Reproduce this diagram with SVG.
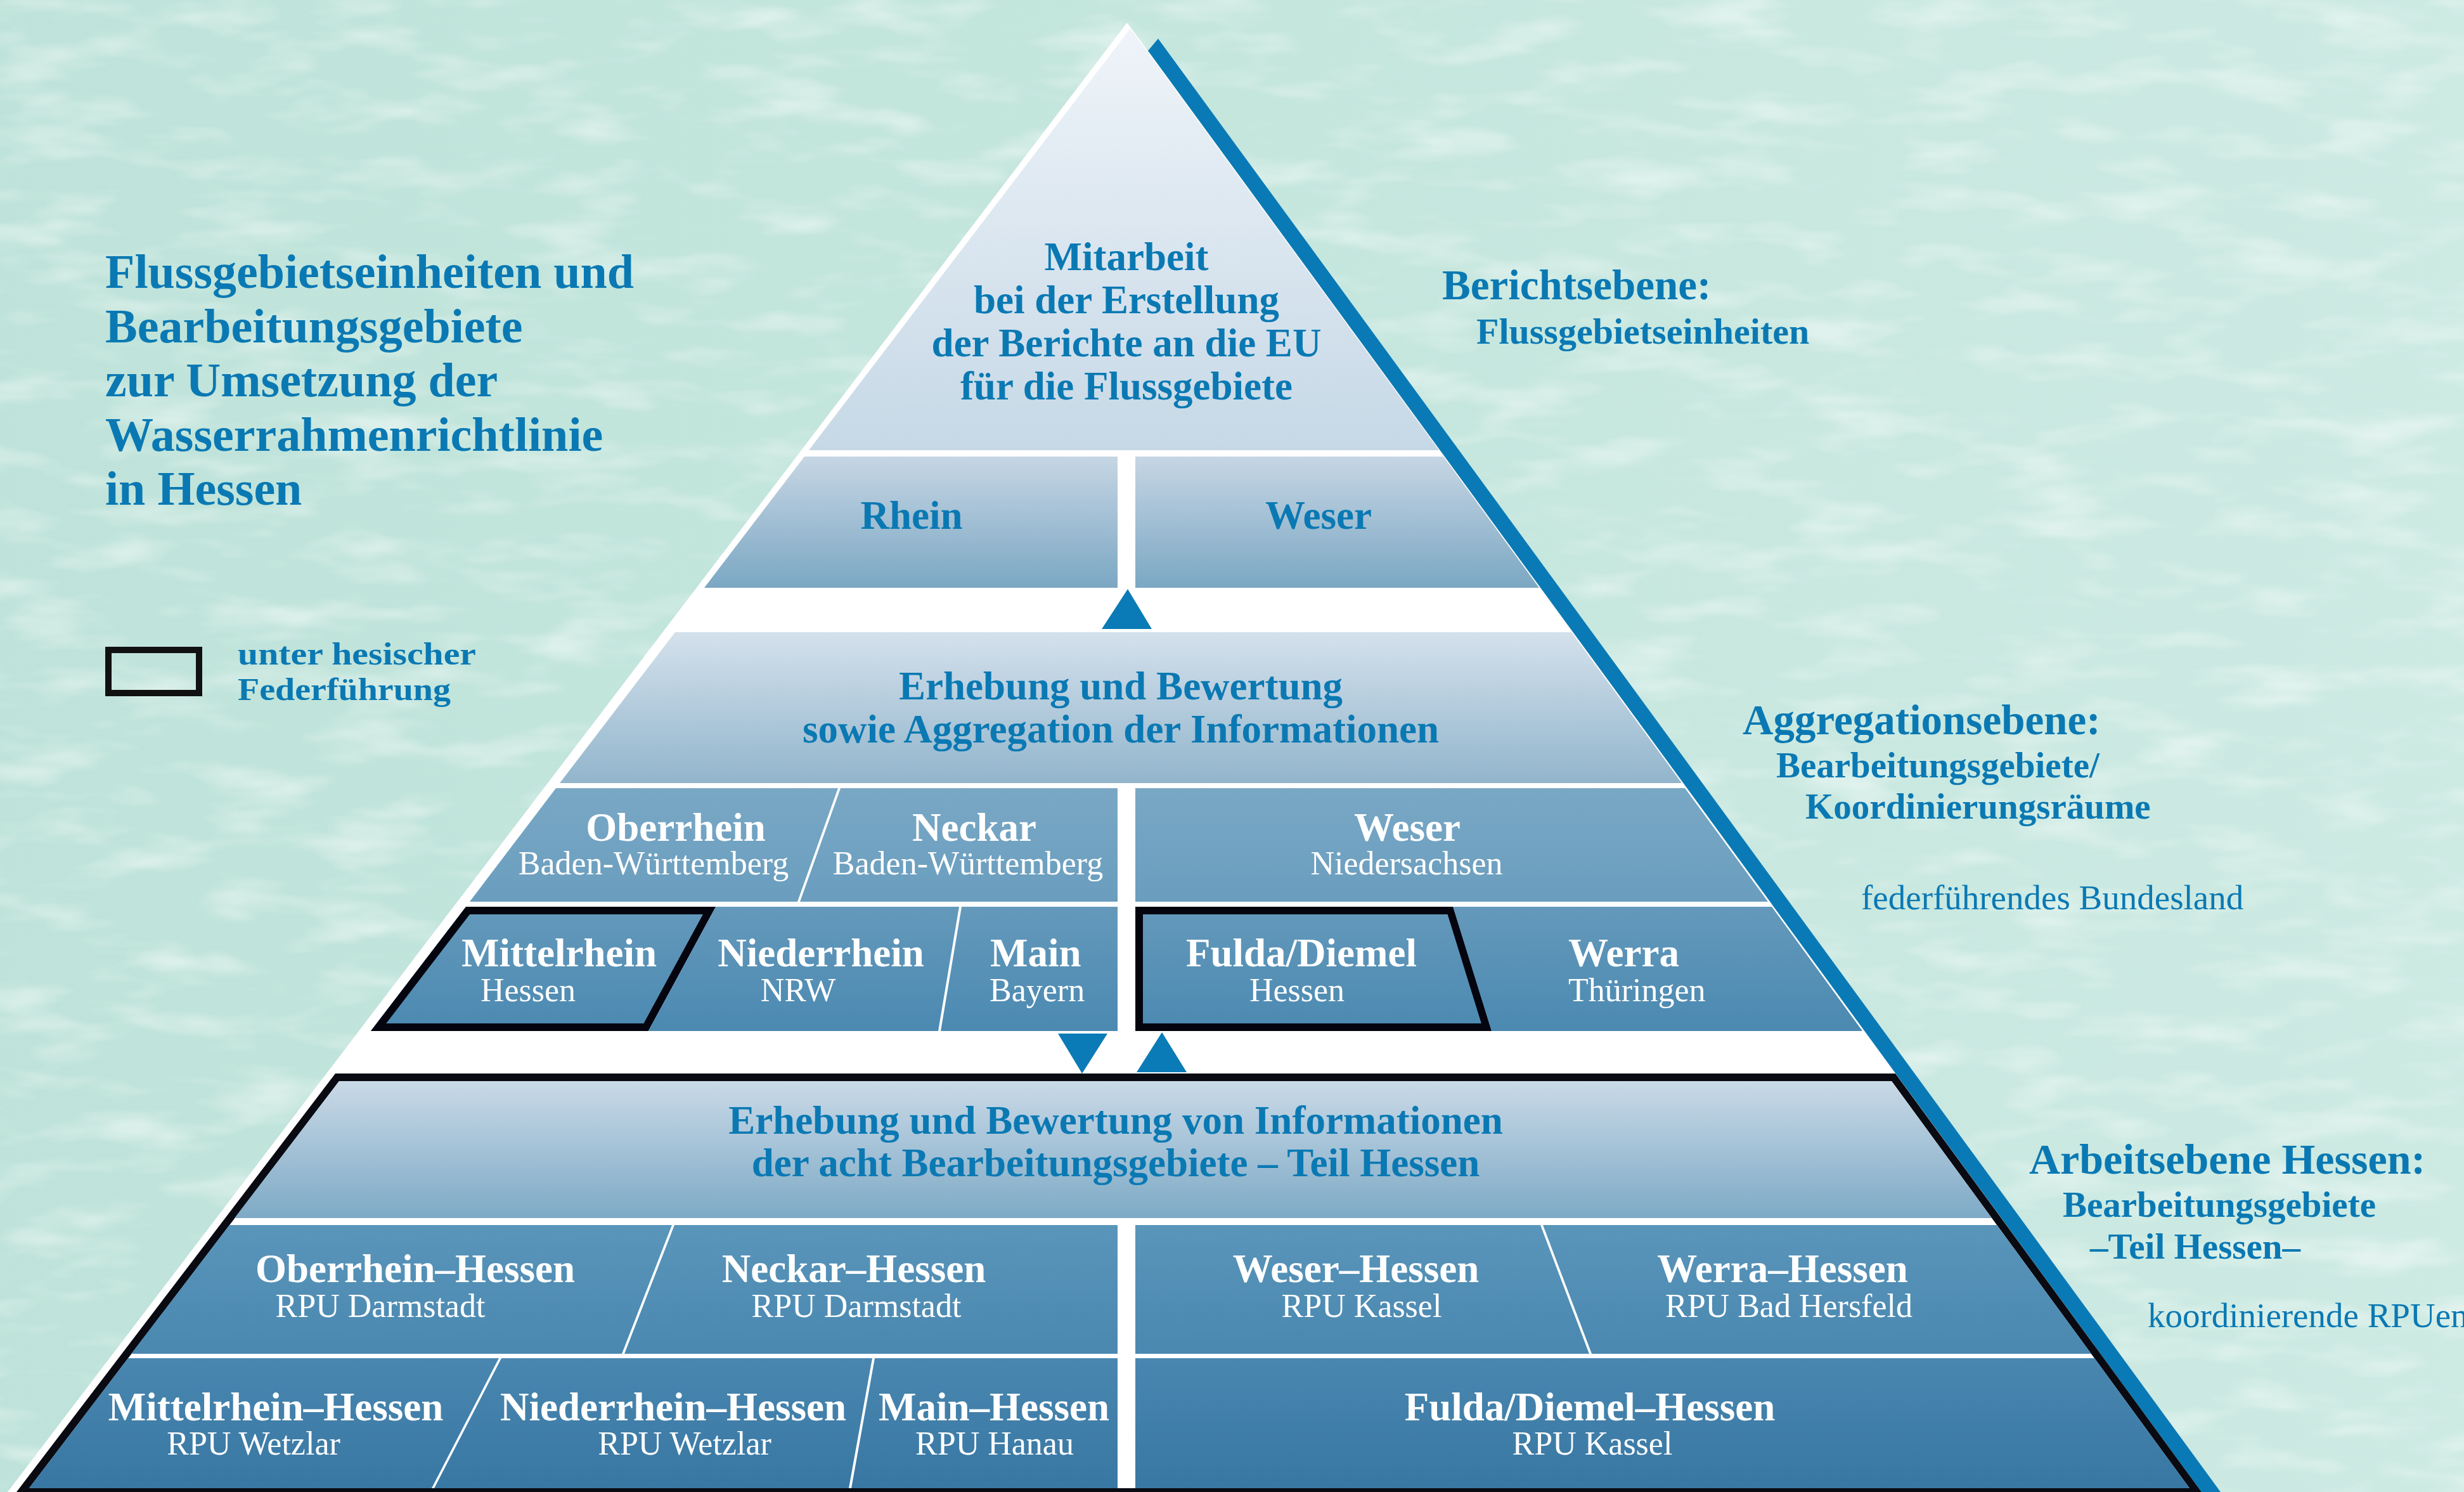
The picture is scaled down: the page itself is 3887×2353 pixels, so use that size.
<svg xmlns="http://www.w3.org/2000/svg" width="3887" height="2353" viewBox="0 0 3887 2353">
<defs>
<style>
.title{font-family:"Liberation Serif","Times New Roman",serif;font-weight:bold;font-size:76px;fill:#0a79b3}
.lab{font-family:"Liberation Serif","Times New Roman",serif;font-weight:bold;fill:#0a79b3}
.reg{font-family:"Liberation Serif","Times New Roman",serif;font-weight:normal;fill:#0a79b3}
.bb{font-family:"Liberation Serif","Times New Roman",serif;font-weight:bold;font-size:63px;fill:#0a79b3;text-anchor:middle}
.wb{font-family:"Liberation Serif","Times New Roman",serif;font-weight:bold;font-size:63px;fill:#ffffff;text-anchor:middle}
.wr{font-family:"Liberation Serif","Times New Roman",serif;font-weight:normal;font-size:52px;fill:#ffffff;text-anchor:middle}
.st{text-anchor:start}
.hl{fill:none;stroke:#05050f;stroke-width:12;stroke-linejoin:miter}
.arrow{fill:#0a7bb6}
</style>
<linearGradient id="bg" x1="0" y1="0" x2="1" y2="0">
<stop offset="0" stop-color="#bfe3da"/>
<stop offset="0.5" stop-color="#c4e6dd"/>
<stop offset="1" stop-color="#cdeae3"/>
</linearGradient>
<filter id="tex" x="0" y="0" width="3887" height="2353" filterUnits="userSpaceOnUse">
<feTurbulence type="fractalNoise" baseFrequency="0.006 0.02" numOctaves="3" seed="7"/>
<feColorMatrix type="matrix" values="0 0 0 0 1  0 0 0 0 1  0 0 0 0 1  2.6 0 0 0 -1.25"/>
</filter>
<linearGradient id="g0" x1="0" y1="0" x2="0" y2="1"><stop offset="0" stop-color="#eff4f9"/><stop offset="1" stop-color="#c6d8e6"/></linearGradient>
<linearGradient id="g1" x1="0" y1="0" x2="0" y2="1"><stop offset="0" stop-color="#c6d6e4"/><stop offset="1" stop-color="#7ba7c3"/></linearGradient>
<linearGradient id="g2" x1="0" y1="0" x2="0" y2="1"><stop offset="0" stop-color="#d4e1ec"/><stop offset="1" stop-color="#92b5cc"/></linearGradient>
<linearGradient id="g3" x1="0" y1="0" x2="0" y2="1"><stop offset="0" stop-color="#79a8c5"/><stop offset="1" stop-color="#6a9dbe"/></linearGradient>
<linearGradient id="g4" x1="0" y1="0" x2="0" y2="1"><stop offset="0" stop-color="#6499bb"/><stop offset="1" stop-color="#4b89b1"/></linearGradient>
<linearGradient id="g5" x1="0" y1="0" x2="0" y2="1"><stop offset="0" stop-color="#c9d9e7"/><stop offset="1" stop-color="#7eaac6"/></linearGradient>
<linearGradient id="g6" x1="0" y1="0" x2="0" y2="1"><stop offset="0" stop-color="#5a95ba"/><stop offset="1" stop-color="#4a88b0"/></linearGradient>
<linearGradient id="g7" x1="0" y1="0" x2="0" y2="1"><stop offset="0" stop-color="#4987b0"/><stop offset="1" stop-color="#3877a3"/></linearGradient>
</defs>

<g id="background">
<rect x="0" y="0" width="3887" height="2353" fill="url(#bg)"/>
<rect x="0" y="0" width="3887" height="2353" filter="url(#tex)" opacity="0.45"/>
</g>

<g id="pyramid-frame">
<polygon points="1777,37 1779,37 3473,2353 12,2353" fill="#ffffff"/>
<polygon points="1811,80 1827,61 3503,2353 3473,2353" fill="#0a7ab6"/>
</g>

<g id="title">
<text class="title" x="166" y="454">Flussgebietseinheiten und</text>
<text class="title" x="166" y="540">Bearbeitungsgebiete</text>
<text class="title" x="166" y="625">zur Umsetzung der</text>
<text class="title" x="166" y="711">Wasserrahmenrichtlinie</text>
<text class="title" x="166" y="796">in Hessen</text>
</g>

<g id="legend">
<rect x="171" y="1025" width="143" height="68" fill="none" stroke="#111111" stroke-width="10"/>
<text class="lab" x="375" y="1048" font-size="50" textLength="376" lengthAdjust="spacingAndGlyphs">unter hesischer</text>
<text class="lab" x="375" y="1104" font-size="50" textLength="336" lengthAdjust="spacingAndGlyphs">Federführung</text>
</g>

<g id="level-labels">
<text class="lab" x="2275" y="472" font-size="67">Berichtsebene:</text>
<text class="lab" x="2329" y="542" font-size="58">Flussgebietseinheiten</text>
<text class="lab" x="2749" y="1158" font-size="67">Aggregationsebene:</text>
<text class="lab" x="2802" y="1226" font-size="57">Bearbeitungsgebiete/</text>
<text class="lab" x="2848" y="1291" font-size="57">Koordinierungsräume</text>
<text class="reg" x="2936" y="1434" font-size="55">federführendes Bundesland</text>
<text class="lab" x="3201" y="1851" font-size="68">Arbeitsebene Hessen:</text>
<text class="lab" x="3254" y="1919" font-size="57">Bearbeitungsgebiete</text>
<text class="lab" x="3297" y="1985" font-size="57">–Teil Hessen–</text>
<text class="reg" x="3388" y="2093" font-size="55">koordinierende RPUen</text>
</g>

<g id="n-bericht">
<polygon points="1783,45 2270,710 1276,710" fill="url(#g0)"/>
<text class="bb" x="1777" y="426">Mitarbeit</text>
<text class="bb" x="1777" y="494">bei der Erstellung</text>
<text class="bb" x="1777" y="562">der Berichte an die EU</text>
<text class="bb" x="1777" y="630">für die Flussgebiete</text>
</g>
<g id="n-rhein">
<polygon points="1269,720 1763,720 1763,927 1111,927" fill="url(#g1)"/>
<text class="bb" x="1438" y="834">Rhein</text>
</g>
<g id="n-weser">
<polygon points="1791,720 2277,720 2428,927 1791,927" fill="url(#g1)"/>
<text class="bb" x="2080" y="834">Weser</text>
</g>

<g id="n-aggregation">
<polygon points="1065,997 2479,997 2653,1235 883,1235" fill="url(#g2)"/>
<text class="bb" x="1768" y="1103">Erhebung und Bewertung</text>
<text class="bb" x="1768" y="1171">sowie Aggregation der Informationen</text>
</g>
<g id="n-oberrhein">
<polygon points="877,1243 1322,1243 1258,1422 741,1422" fill="url(#g3)"/>
<text class="wb" x="1066" y="1326">Oberrhein</text>
<text class="wr" x="1031" y="1379">Baden-Württemberg</text>
</g>
<g id="n-neckar">
<polygon points="1326,1243 1763,1243 1763,1422 1262,1422" fill="url(#g3)"/>
<text class="wb" x="1537" y="1326">Neckar</text>
<text class="wr" x="1527" y="1379">Baden-Württemberg</text>
</g>
<g id="n-weser-ns">
<polygon points="1791,1243 2658,1243 2789,1422 1791,1422" fill="url(#g3)"/>
<text class="wb" x="2220" y="1326">Weser</text>
<text class="wr" x="2219" y="1379">Niedersachsen</text>
</g>
<g id="n-mittelrhein">
<polygon points="735,1430 1129,1430 1023,1626 585,1626" fill="url(#g4)"/>
<polygon class="hl" points="738,1436 1119,1436 1019,1620 597,1620"/>
<text class="wb" x="882" y="1524">Mittelrhein</text>
<text class="wr" x="833" y="1579">Hessen</text>
</g>
<g id="n-niederrhein">
<polygon points="1129,1430 1513,1430 1480,1626 1023,1626" fill="url(#g4)"/>
<text class="wb" x="1295" y="1524">Niederrhein</text>
<text class="wr" x="1259" y="1579">NRW</text>
</g>
<g id="n-main">
<polygon points="1517,1430 1763,1430 1763,1626 1484,1626" fill="url(#g4)"/>
<text class="wb st" x="1562" y="1524">Main</text>
<text class="wr st" x="1561" y="1579">Bayern</text>
</g>
<g id="n-fulda">
<polygon points="1791,1430 2292,1430 2353,1626 1791,1626" fill="url(#g4)"/>
<polygon class="hl" points="1797,1436 2288,1436 2345,1620 1797,1620"/>
<text class="wb" x="2053" y="1524">Fulda/Diemel</text>
<text class="wr" x="2046" y="1579">Hessen</text>
</g>
<g id="n-werra">
<polygon points="2292,1430 2795,1430 2938,1626 2353,1626" fill="url(#g4)"/>
<text class="wb st" x="2474" y="1524">Werra</text>
<text class="wr st" x="2474" y="1579">Thüringen</text>
</g>

<g id="hessen-frame">
<polygon points="529,1693 2990,1693 3473,2353 26,2353" fill="#0a0a12"/>
<polygon points="535,1705 2984,1705 3454,2347 46,2347" fill="#ffffff"/>
</g>
<g id="n-arbeit">
<polygon points="535,1705 2984,1705 3142,1921 370,1921" fill="url(#g5)"/>
<text class="bb" x="1760" y="1788">Erhebung und Bewertung von Informationen</text>
<text class="bb" x="1760" y="1855">der acht Bearbeitungsgebiete – Teil Hessen</text>
</g>
<g id="n-oberrhein-hessen">
<polygon points="362,1932 1060,1932 981,2135 207,2135" fill="url(#g6)"/>
<text class="wb" x="655" y="2022">Oberrhein–Hessen</text>
<text class="wr" x="600" y="2077">RPU Darmstadt</text>
</g>
<g id="n-neckar-hessen">
<polygon points="1064,1932 1763,1932 1763,2135 985,2135" fill="url(#g6)"/>
<text class="wb" x="1347" y="2022">Neckar–Hessen</text>
<text class="wr" x="1351" y="2077">RPU Darmstadt</text>
</g>
<g id="n-weser-hessen">
<polygon points="1791,1932 2430,1932 2507,2135 1791,2135" fill="url(#g6)"/>
<text class="wb" x="2139" y="2022">Weser–Hessen</text>
<text class="wr" x="2148" y="2077">RPU Kassel</text>
</g>
<g id="n-werra-hessen">
<polygon points="2434,1932 3150,1932 3299,2135 2511,2135" fill="url(#g6)"/>
<text class="wb" x="2812" y="2022">Werra–Hessen</text>
<text class="wr" x="2822" y="2077">RPU Bad Hersfeld</text>
</g>
<g id="n-mittelrhein-hessen">
<polygon points="202,2142 787,2142 681,2347 46,2347" fill="url(#g7)"/>
<text class="wb" x="435" y="2240">Mittelrhein–Hessen</text>
<text class="wr" x="400" y="2294">RPU Wetzlar</text>
</g>
<g id="n-niederrhein-hessen">
<polygon points="791,2142 1376,2142 1339,2347 685,2347" fill="url(#g7)"/>
<text class="wb" x="1062" y="2240">Niederrhein–Hessen</text>
<text class="wr" x="1080" y="2294">RPU Wetzlar</text>
</g>
<g id="n-main-hessen">
<polygon points="1380,2142 1763,2142 1763,2347 1343,2347" fill="url(#g7)"/>
<text class="wb" x="1568" y="2240">Main–Hessen</text>
<text class="wr" x="1569" y="2294">RPU Hanau</text>
</g>
<g id="n-fulda-hessen">
<polygon points="1791,2142 3304,2142 3454,2347 1791,2347" fill="url(#g7)"/>
<text class="wb" x="2508" y="2240">Fulda/Diemel–Hessen</text>
<text class="wr" x="2512" y="2294">RPU Kassel</text>
</g>

<g id="connectors">
<polygon class="arrow" points="1779,929 1817,992 1738,992"/>
<polygon class="arrow" points="1669,1630 1747,1630 1707,1693"/>
<polygon class="arrow" points="1833,1628 1872,1691 1793,1691"/>
</g>
</svg>
